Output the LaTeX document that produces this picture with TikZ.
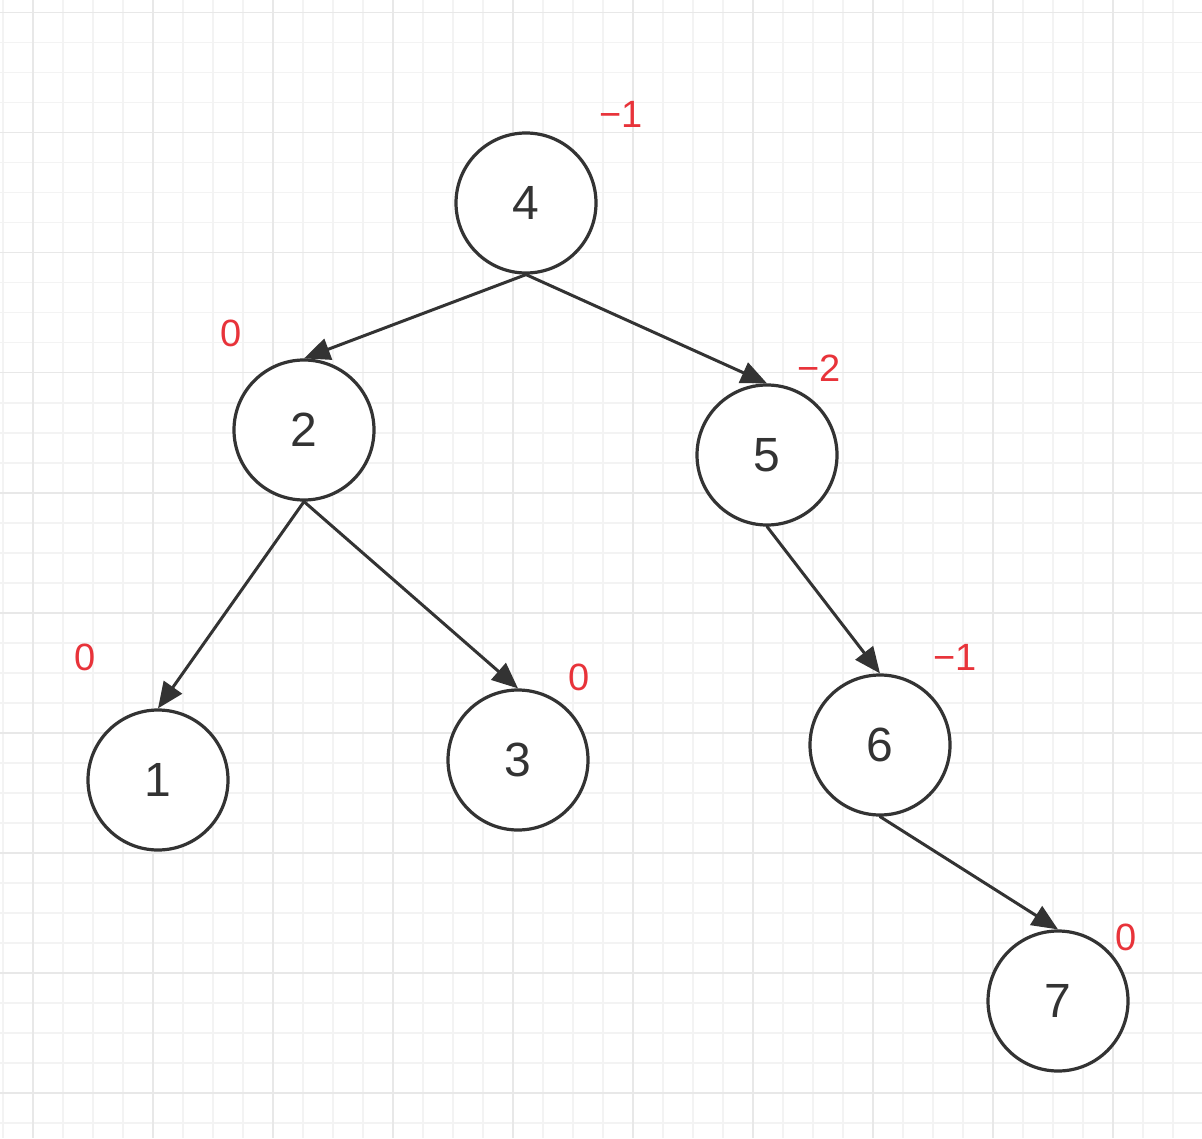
\documentclass[tikz,border=0pt]{standalone}
\usepackage{fontspec}
\setmainfont{Liberation Sans}
\usetikzlibrary{arrows.meta}
\definecolor{gridminor}{HTML}{F3F3F3}
\definecolor{gridmajor}{HTML}{E8E8E8}
\definecolor{ink}{HTML}{333333}
\definecolor{bfred}{HTML}{E8333A}
\begin{document}
\begin{tikzpicture}[x=0.5pt, y=-0.5pt, line join=round, line cap=round,
		vertex/.style={circle, draw=ink, fill=white, line width=1.6pt, minimum size=70pt, inner sep=0pt, text=ink, font=\fontsize{24}{24}\selectfont},
		bf/.style={text=bfred, inner sep=0pt, font=\fontsize{19}{19}\selectfont},
		edge/.style={draw=ink, line width=1.5pt, -{Triangle[length=13pt, width=11pt]}}]
		\useasboundingbox (0,0) rectangle (1202,1138);
		\fill[white] (0,0) rectangle (1202,1138);
		% grid
		\foreach \i in {0,...,39} \draw[gridminor, line width=0.8pt, line cap=butt] ({2.7+30*\i},0) -- ({2.7+30*\i},1138);
		\foreach \j in {0,...,37} \draw[gridminor, line width=0.8pt, line cap=butt] (0,{12.7+30*\j}) -- (1202,{12.7+30*\j});
		\foreach \i in {0,...,9} \draw[gridmajor, line width=0.8pt, line cap=butt] ({32.7+120*\i},0) -- ({32.7+120*\i},1138);
		\foreach \j in {0,...,9} \draw[gridmajor, line width=0.8pt, line cap=butt] (0,{12.7+120*\j}) -- (1202,{12.7+120*\j});
		% tree
		\node[vertex] (n4) at (526,203) {4};
		\node[vertex] (n2) at (304,430) {2};
		\node[vertex] (n5) at (767,455) {5};
		\node[vertex] (n1) at (158,780) {1};
		\node[vertex] (n3) at (518,760) {3};
		\node[vertex] (n6) at (880,745) {6};
		\node[vertex] (n7) at (1058,1001) {7};
		\draw[edge] (n4.south) -- (n2.north);
		\draw[edge] (n4.south) -- (n5.north);
		\draw[edge] (n2.south) -- (n1.north);
		\draw[edge] (n2.south) -- (n3.north);
		\draw[edge] (n5.south) -- (n6.north);
		\draw[edge] (n6.south) -- (n7.north);
		% balance factors
		\node[bf] (bf4) at (621,114) {−1};
		\node[bf] (bf2) at (231,333) {0};
		\node[bf] (bf5) at (819,368) {−2};
		\node[bf] (bf1) at (85,657) {0};
		\node[bf] (bf3) at (579,677) {0};
		\node[bf] (bf6) at (955,657) {−1};
		\node[bf] (bf7) at (1126,937) {0};
	\end{tikzpicture}
\end{document}
